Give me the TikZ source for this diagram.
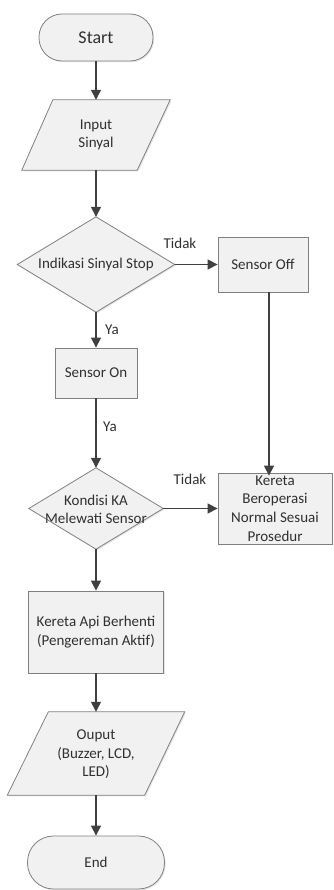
\documentclass[tikz,border=0pt]{standalone}
\usepackage{fontspec}
\setmainfont{Carlito}
\usetikzlibrary{arrows.meta,calc,shadows}
\definecolor{bordergray}{HTML}{808080}
\definecolor{arrowgray}{HTML}{404040}
\definecolor{boxfill}{HTML}{F1F1F1}
\definecolor{txt}{HTML}{303030}
\begin{document}
\begin{tikzpicture}[x=1pt,y=-1pt,
  base/.style={inner sep=0pt, align=center, text=txt, font=\fontsize{15}{18.6}\selectfont},
  boxstyle/.style={base, draw=bordergray, fill=boxfill, line width=0.8pt,
     drop shadow={shadow xshift=1.2pt, shadow yshift=-1.2pt, opacity=0.2}},
  term/.style={boxstyle, rounded corners=23pt},
  ghost/.style={base},
  outline/.style={draw=bordergray, fill=boxfill, line width=0.8pt,
     drop shadow={shadow xshift=1.2pt, shadow yshift=-1.2pt, opacity=0.2}},
  arr/.style={draw=arrowgray, line width=1.4pt, -{Triangle[length=10pt,width=10pt]}},
  lbl/.style={base}
]
\useasboundingbox (0,0) rectangle (334,890);

% Start
\node[term, minimum width=114pt, minimum height=47pt, font=\fontsize{18}{21}\selectfont] (start) at (96,37.5) {Start};

% Input parallelogram
\node[ghost, minimum width=148pt, minimum height=70pt] (in) at (96,135) {};
\path[outline] ($(in.north west)+(31,0)$) -- (in.north east) -- ($(in.south east)+(-33,0)$) -- (in.south west) -- cycle;
\node[base] at (in.center) {Input\\Sinyal};

% Decision 1
\node[ghost, minimum width=157pt, minimum height=95pt] (d1) at (96,264.5) {};
\path[outline] (d1.north) -- (d1.east) -- (d1.south) -- (d1.west) -- cycle;
\node[base] at (d1.center) {Indikasi Sinyal Stop};

% Sensor Off
\node[boxstyle, minimum width=90pt, minimum height=55pt] (off) at (263,264.5) {Sensor Off};

% Sensor On
\node[boxstyle, minimum width=82pt, minimum height=50pt] (on) at (96,373) {Sensor On};

% Decision 2
\node[ghost, minimum width=134pt, minimum height=81pt] (d2) at (96,508.5) {};
\path[outline] (d2.north) -- (d2.east) -- (d2.south) -- (d2.west) -- cycle;
\node[base] at ($(d2.center)+(0,1)$) {Kondisi KA\\Melewati Sensor};

% Kereta beroperasi normal
\node[boxstyle, minimum width=114pt, minimum height=71pt] (ker) at (275,508.5) {Kereta\\Beroperasi\\Normal Sesuai\\Prosedur};

% Kereta api berhenti
\node[boxstyle, minimum width=135pt, minimum height=82pt] (stop) at (96,632) {Kereta Api Berhenti\\(Pengereman Aktif)};

% Output parallelogram
\node[ghost, minimum width=177pt, minimum height=83pt] (out) at (96,753.5) {};
\path[outline] ($(out.north west)+(41,0)$) -- (out.north east) -- ($(out.south east)+(-40,0)$) -- (out.south west) -- cycle;
\node[base] at ($(out.center)+(0,1)$) {Ouput\\(Buzzer, LCD,\\LED)};

% End
\node[term, minimum width=137pt, minimum height=53pt, rounded corners=26pt] (end) at (96,862.5) {End};

% Connectors
\draw[arr] (start.south) -- (in.north);
\draw[arr] (in.south) -- (d1.north);
\draw[arr] (d1.east) -- (off.west);
\draw[arr] (d1.south) -- (on.north);
\draw[arr] (on.south) -- (d2.north);
\draw[arr] (d2.east) -- (d2.east -| ker.west);
\draw[arr] ($(off.south)+(6,0)$) -- ($(ker.north)+(-6,3)$);
\draw[arr] (d2.south) -- (stop.north);
\draw[arr] (stop.south) -- (out.north);
\draw[arr] (out.south) -- (end.north);

% Labels
\node[lbl] at (180,243) {Tidak};
\node[lbl] at (112,330) {Ya};
\node[lbl] at (110,427) {Ya};
\node[lbl] at (190,479) {Tidak};
\end{tikzpicture}
\end{document}
